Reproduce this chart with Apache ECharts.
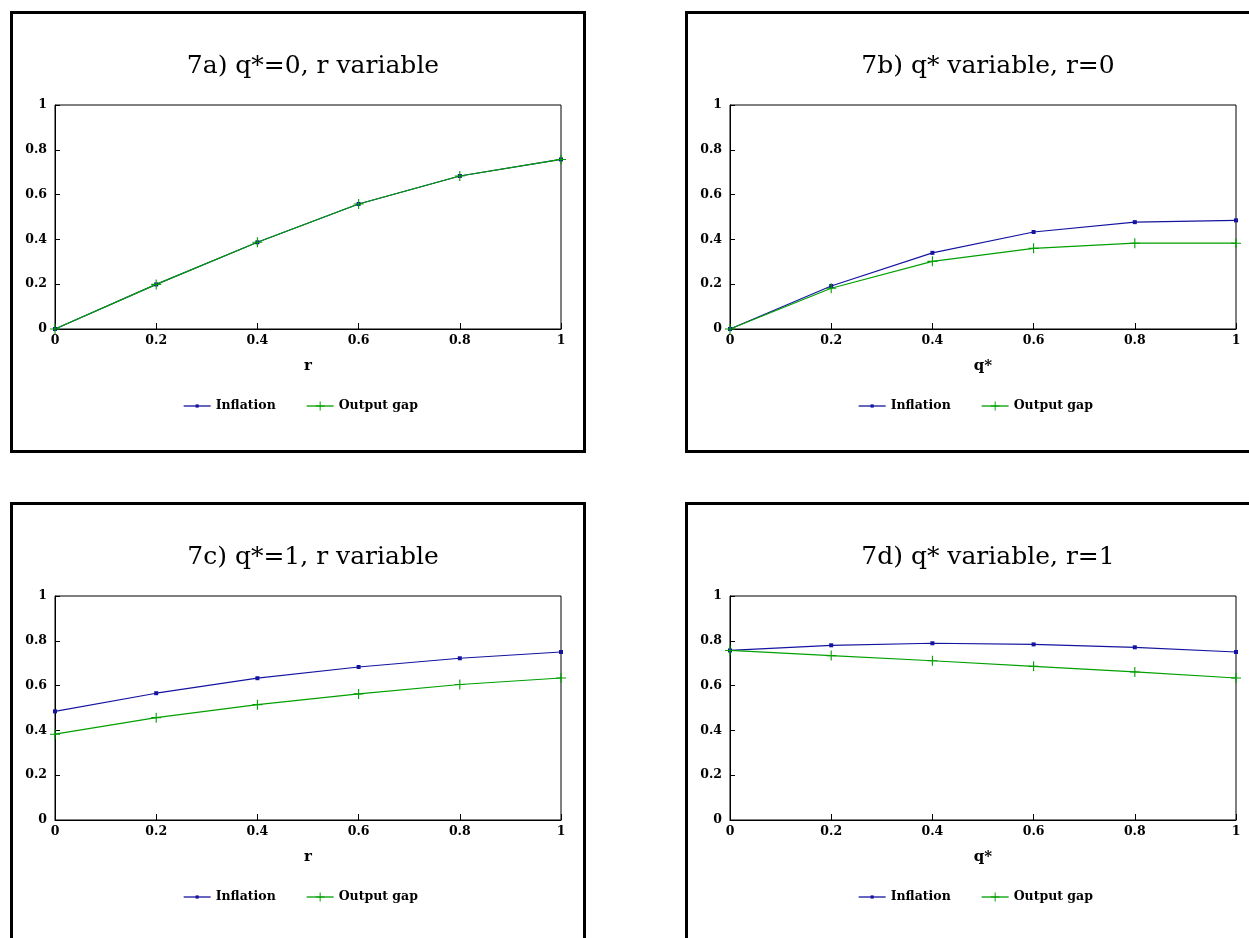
<!DOCTYPE html>
<html>
<head>
<meta charset="utf-8">
<script src="https://cdn.jsdelivr.net/npm/echarts@6/dist/echarts.min.js"></script>
<style>
html,body{margin:0;padding:0;background:#fff;}
#chart{width:1249px;height:938px;}
</style>
</head>
<body>
<div id="chart"></div>
<script>
const xValues = [0, 0.2, 0.4, 0.6, 0.8, 1];
const tickLabels = ['0', '0.2', '0.4', '0.6', '0.8', '1'];
const panelTitles = ['7a) q*=0, r variable', '7b) q* variable, r=0', '7c) q*=1, r variable', '7d) q* variable, r=1'];
const axisNames = ['r', 'q*', 'r', 'q*'];
const seriesNames = ['Inflation', 'Output gap'];
const inflationA = [0, 0.199, 0.387, 0.558, 0.683, 0.757];
const outputA    = [0, 0.199, 0.387, 0.558, 0.683, 0.757];
const inflationB = [0, 0.192, 0.340, 0.433, 0.477, 0.485];
const outputB    = [0, 0.182, 0.302, 0.360, 0.383, 0.383];
const inflationC = [0.485, 0.566, 0.633, 0.683, 0.722, 0.750];
const outputC    = [0.383, 0.457, 0.515, 0.563, 0.605, 0.634];
const inflationD = [0.757, 0.780, 0.789, 0.784, 0.771, 0.750];
const outputD    = [0.757, 0.734, 0.711, 0.686, 0.661, 0.634];

const inflations = [inflationA, inflationB, inflationC, inflationD];
const outputs = [outputA, outputB, outputC, outputD];

const FONT = 'DejaVu Serif';
const BLUE = '#1414a0';
const GREEN = '#00a000';
const PLUS = 'path://M0,4h4v-4h1v4h4v1h-4v4h-1v-4h-4z';

const offs = [[0, 0], [675, 0], [0, 491], [675, 491]];

const grids = [], xAxes = [], yAxes = [], series = [], titles = [], legends = [], graphics = [];
const legendText = { fontFamily: FONT, fontWeight: 'bold', fontSize: 12.5, color: '#000' };
offs.forEach((o, i) => {
  const [dx, dy] = o;
  graphics.push({
    type: 'rect', silent: true, z: 100,
    shape: { x: 11.5 + dx, y: 12.5 + dy, width: 573, height: 439 },
    style: { fill: 'none', stroke: '#000', lineWidth: 3 }
  });
  grids.push({ left: 55 + dx, top: 105 + dy, width: 506, height: 224, show: true, borderColor: '#000', borderWidth: 1, backgroundColor: 'transparent' });
  xAxes.push({
    type: 'value', gridIndex: i, min: 0, max: 1, interval: 0.2,
    name: axisNames[i], nameLocation: 'middle', nameGap: 30,
    nameTextStyle: { fontFamily: FONT, fontWeight: 'bold', fontSize: 15, color: '#000' },
    axisLine: { show: true, lineStyle: { color: '#000', width: 1 } },
    axisTick: { show: true, inside: true, length: 6, lineStyle: { color: '#000' } },
    axisLabel: { fontFamily: FONT, fontWeight: 'bold', fontSize: 12.5, color: '#000', margin: 5,
      formatter: v => tickLabels[Math.round(v * 5)] },
    splitLine: { show: false }
  });
  yAxes.push({
    type: 'value', gridIndex: i, min: 0, max: 1, interval: 0.2,
    axisLine: { show: true, lineStyle: { color: '#000', width: 1 } },
    axisTick: { show: true, inside: true, length: 5, lineStyle: { color: '#000' } },
    axisLabel: { fontFamily: FONT, fontWeight: 'bold', fontSize: 12.5, color: '#000', margin: 8,
      formatter: v => tickLabels[Math.round(v * 5)] },
    splitLine: { show: false }
  });
  titles.push({
    text: panelTitles[i], left: 308 + dx, top: 49 + dy, textAlign: 'center',
    textStyle: { fontFamily: FONT, fontWeight: 'normal', fontSize: 25, color: '#000' }
  });
  legends.push({
    data: [seriesNames[0]], left: 183 + dx, top: 406 + dy - 7, padding: 0, itemWidth: 27, itemHeight: 4,
    itemStyle: { borderWidth: 0 }, lineStyle: { width: 1.3 },
    textStyle: Object.assign({ lineHeight: 14, height: 14 }, legendText), selectedMode: false
  });
  legends.push({
    data: [seriesNames[1]], left: 306 + dx, top: 406 + dy - 7, padding: 0, itemWidth: 27, itemHeight: 11,
    itemStyle: { borderWidth: 0 }, lineStyle: { width: 1.3 },
    textStyle: Object.assign({ lineHeight: 14, height: 14 }, legendText), selectedMode: false
  });
  series.push({
    name: seriesNames[0], type: 'line', xAxisIndex: i, yAxisIndex: i,
    data: xValues.map((x, k) => [x, inflations[i][k]]),
    symbol: 'rect', symbolSize: 4, showSymbol: true,
    lineStyle: { color: BLUE, width: 1.2 }, itemStyle: { color: BLUE },
    animation: false
  });
  series.push({
    name: seriesNames[1], type: 'line', xAxisIndex: i, yAxisIndex: i,
    data: xValues.map((x, k) => [x, outputs[i][k]]),
    symbol: PLUS, symbolSize: 10, showSymbol: true,
    lineStyle: { color: GREEN, width: 1.2 }, itemStyle: { color: GREEN },
    animation: false
  });
});

const chart = echarts.init(document.getElementById('chart'), null, { renderer: 'canvas' });
chart.setOption({
  backgroundColor: '#fff',
  animation: false,
  title: titles,
  legend: legends,
  grid: grids,
  xAxis: xAxes,
  yAxis: yAxes,
  series: series,
  graphic: graphics
});
</script>
</body>
</html>
